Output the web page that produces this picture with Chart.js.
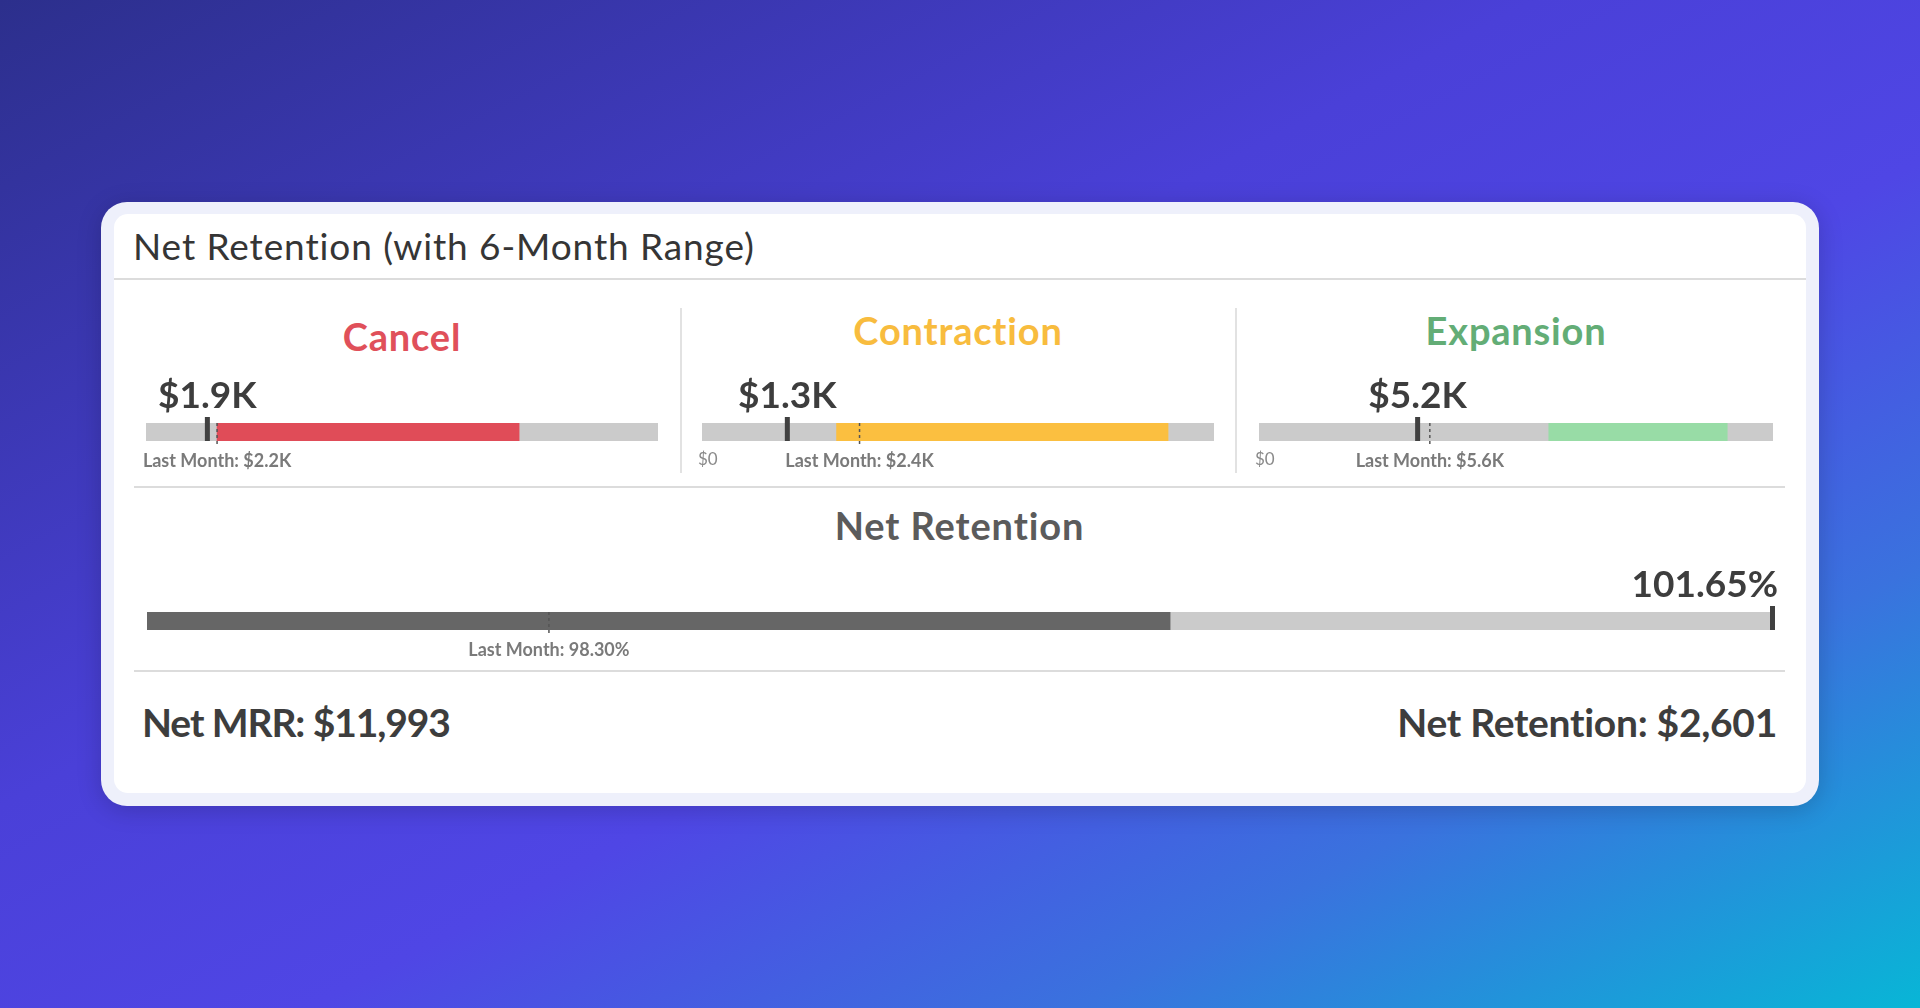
<!DOCTYPE html>
<html>
<head>
<meta charset="utf-8">
<script src="https://cdn.jsdelivr.net/npm/chart.js@4/dist/chart.umd.min.js"></script>
<style>
	html, body { margin: 0; padding: 0; }
	body {
		width: 1920px; height: 1008px; overflow: hidden; position: relative;
		background: linear-gradient(to bottom right, #2c2f8c 0%, #4a40d8 40%, #4f46e5 58%, #3a72de 78%, #08b6d6 100%);
		font-family: Lato, 'Noto Sans', sans-serif;
	}
	.card {
		position: absolute; left: 101px; top: 202px; width: 1718px; height: 604px;
		background: #eef0fb; border-radius: 26px; box-shadow: 0 4px 24px rgba(0, 0, 0, .18);
	}
	.inner {
		position: absolute; left: 114px; top: 214px; width: 1692px; height: 579px;
		background: #fff; border-radius: 14px;
	}
	.txt { position: absolute; white-space: nowrap; line-height: 1; }
	.hline { position: absolute; height: 2px; background: #dcdcdc; }
	.vline { position: absolute; width: 2px; background: #e2e2e2; }
	canvas { position: absolute; }
</style>
</head>
<body>
<div class="card"></div>
<div class="inner"></div>

<div class="txt" style="left:133px; top:227px; font-size:37px; color:#353535; letter-spacing:0.9px;">Net Retention (with 6-Month Range)</div>
<div class="hline" style="left:114px; top:278px; width:1692px;"></div>

<div id="heads"></div>

<div class="vline" style="left:680px; top:308px; height:165px;"></div>
<div class="vline" style="left:1235px; top:308px; height:165px;"></div>
<div class="hline" style="left:134px; top:486px; width:1651px;"></div>
<div class="hline" style="left:134px; top:670px; width:1651px;"></div>

<div class="txt" style="left:818px; width:283px; text-align:center; top:506px; font-size:38px; font-weight:700; color:#5b5b5b; letter-spacing:0.9px;">Net Retention</div>
<div class="txt" style="left:142px; top:703px; font-size:39px; font-weight:700; color:#3d3d3d; letter-spacing:-1.1px;">Net MRR: $11,993</div>
<div class="txt" style="right:143px; top:703px; font-size:39px; font-weight:700; color:#3d3d3d; letter-spacing:-0.3px;">Net Retention: $2,601</div>

<script>
// gauge data (in $K)
const gaugeNames = ['Cancel', 'Contraction', 'Expansion'];
const gaugeCurrent = [1.9, 1.3, 5.2];
const gaugeLastMonth = [2.2, 2.4, 5.6];
const gaugeRangeLow = [2.2, 2.05, 9.5];
const gaugeRangeHigh = [11.55, 7.1, 15.35];
const gaugeScaleMax = [15.85, 7.8, 16.85];
const gaugeShowZero = [false, true, true];

// net retention (%)
const netCurrent = 101.65;
const netLastMonth = 98.30;
const netRange = [97.2, 100.0];
const netScale = [97.2, 101.65];

const gaugeColors = ['#e04c58', '#fbbf40', '#98dca6'];
const titleColors = ['#e0505a', '#f8bc3e', '#63ad76'];

// draws the current-value tick, last-month dotted tick and their labels
const gaugePlugin = {
	id: 'gauge',
	afterDatasetsDraw(chart, args, opts) {
		const ctx = chart.ctx;
		const x = chart.scales.x;
		const bar = chart.getDatasetMeta(0).data[0];
		const top = bar.y - bar.height / 2,
			bottom = bar.y + bar.height / 2;
		const cx = x.getPixelForValue(opts.current),
			lx = x.getPixelForValue(opts.last);
		ctx.save();
		// last month dotted
		ctx.strokeStyle = '#555';
		ctx.lineWidth = 1.5;
		ctx.setLineDash([3, 3]);
		ctx.beginPath();
		ctx.moveTo(lx, top);
		ctx.lineTo(lx, bottom + 5);
		ctx.stroke();
		ctx.setLineDash([]);
		// current value tick
		ctx.fillStyle = '#404040';
		let tx = Math.min(cx - 2.5, x.right - 3);
		ctx.fillRect(tx, top - 6, 5, bottom - top + 6);
		// value label
		ctx.font = '700 37px Lato, sans-serif';
		ctx.fillStyle = '#3d3d3d';
		ctx.textBaseline = 'alphabetic';
		let w = ctx.measureText(opts.valueText).width;
		let vx = Math.min(cx - w / 2, x.right + 5 - w);
		ctx.fillText(opts.valueText, vx, bar.y - 24);
		// last month label
		ctx.font = '700 18px Lato, sans-serif';
		ctx.fillStyle = '#7a7a7a';
		ctx.textAlign = 'center';
		ctx.fillText(opts.lastText, lx, bar.y + 35);
		if (opts.showZero) {
			ctx.font = '400 17px Lato, sans-serif';
			ctx.fillStyle = '#8a8a8a';
			ctx.textAlign = 'left';
			ctx.fillText(opts.zeroText, x.left - 4, bar.y + 33);
		}
		ctx.restore();
	}
};

function makeGauge(left, right, center, scaleMin, scaleMax, range, color, gauge) {
	let canvas = document.createElement('canvas');
	canvas.width = right - left + 120;
	canvas.height = 140;
	canvas.style.left = (left - 60) + 'px';
	canvas.style.top = (center - 70) + 'px';
	document.body.appendChild(canvas);
	new Chart(canvas, {
		type: 'bar',
		data: {
			labels: [''],
			datasets: [{
				data: [[scaleMin, scaleMax]],
				backgroundColor: '#cbcbcb',
				barThickness: 18,
				grouped: false,
				order: 2
			}, {
				data: [range],
				backgroundColor: color,
				barThickness: 18,
				grouped: false,
				order: 1
			}]
		},
		options: {
			indexAxis: 'y',
			responsive: false,
			animation: false,
			layout: { padding: { left: 60, right: 60, top: 61, bottom: 61 } },
			scales: {
				x: { display: false, min: scaleMin, max: scaleMax },
				y: { display: false }
			},
			plugins: {
				legend: { display: false },
				tooltip: { enabled: false },
				gauge: gauge
			}
		},
		plugins: [gaugePlugin]
	});
}

const fmtK = v => '$' + v.toFixed(1) + 'K';
const barLefts = [146, 702, 1259];
const barRights = [658, 1214, 1773];
const headTops = [317, 311, 311];
const heads = document.getElementById('heads');

gaugeNames.forEach((name, i) => {
	let h = document.createElement('div');
	h.className = 'txt';
	h.textContent = name;
	h.style.left = (barLefts[i] - 20) + 'px';
	h.style.width = (barRights[i] - barLefts[i] + 40) + 'px';
	h.style.textAlign = 'center';
	h.style.top = headTops[i] + 'px';
	h.style.fontSize = '38px';
	h.style.fontWeight = '700';
	h.style.letterSpacing = '0.8px';
	h.style.color = titleColors[i];
	heads.appendChild(h);

	makeGauge(barLefts[i], barRights[i], 432, 0, gaugeScaleMax[i],
		[gaugeRangeLow[i], gaugeRangeHigh[i]], gaugeColors[i], {
			current: gaugeCurrent[i],
			last: gaugeLastMonth[i],
			valueText: fmtK(gaugeCurrent[i]),
			lastText: 'Last Month: ' + fmtK(gaugeLastMonth[i]),
			showZero: gaugeShowZero[i],
			zeroText: '$0'
		});
});

makeGauge(147, 1773, 621, netScale[0], netScale[1], netRange, '#666666', {
	current: netCurrent,
	last: netLastMonth,
	valueText: netCurrent.toFixed(2) + '%',
	lastText: 'Last Month: ' + netLastMonth.toFixed(2) + '%',
	showZero: false
});
</script>
</body>
</html>
